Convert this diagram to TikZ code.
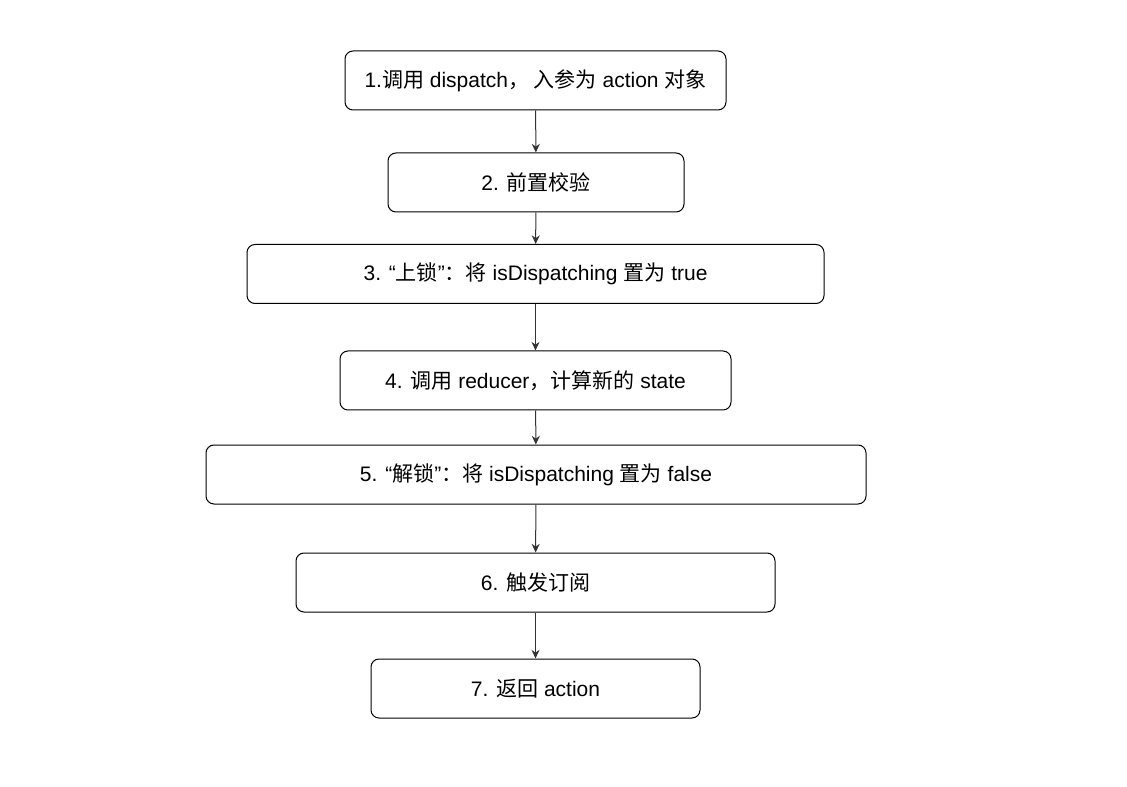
\documentclass[tikz,border=0pt]{standalone}
\usepackage{fontspec}
\setmainfont{Liberation Sans}
\newfontfamily\zh{Noto Sans CJK SC}
\usetikzlibrary{arrows.meta}

\begin{document}
\begin{tikzpicture}[x=0.75pt, y=-0.75pt,
stepbox/.style={draw, rounded corners=6pt, line width=0.75pt, minimum height=44.25pt, inner sep=0pt, font=\fontsize{15.75}{18}\selectfont},
flow/.style={-{Stealth[length=6.5pt, width=6pt]}, line width=0.75pt, draw=black!80}]
\useasboundingbox (0,0) rectangle (1127,787);
%steps
\node[stepbox, minimum width=285.75pt] (call)   at (535.5,80.5)  {1.{\zh 调用} dispatch{\zh ， 入参为} action {\zh 对象}};
\node[stepbox, minimum width=222pt]    (check)  at (536,182.5)   {2. {\zh 前置校验}};
\node[stepbox, minimum width=432.75pt] (lock)   at (535.5,274)   {3. “{\zh 上锁}”{\zh ：将} isDispatching {\zh 置为} true};
\node[stepbox, minimum width=293.25pt] (reduce) at (535.5,380.5) {4. {\zh 调用} reducer{\zh ，计算新的} state};
\node[stepbox, minimum width=495pt]    (unlock) at (536,474.5)   {5. “{\zh 解锁}”{\zh ：将} isDispatching {\zh 置为} false};
\node[stepbox, minimum width=359.25pt] (notify) at (535.5,582.5) {6. {\zh 触发订阅}};
\node[stepbox, minimum width=246.75pt] (ret)    at (535.5,688.5) {7. {\zh 返回} action};
%arrows
\draw[flow] (call) -- (check);
\draw[flow] (check) -- (lock);
\draw[flow] (lock) -- (reduce);
\draw[flow] (reduce) -- (unlock);
\draw[flow] (unlock) -- (notify);
\draw[flow] (notify) -- (ret);
\end{tikzpicture}
\end{document}
